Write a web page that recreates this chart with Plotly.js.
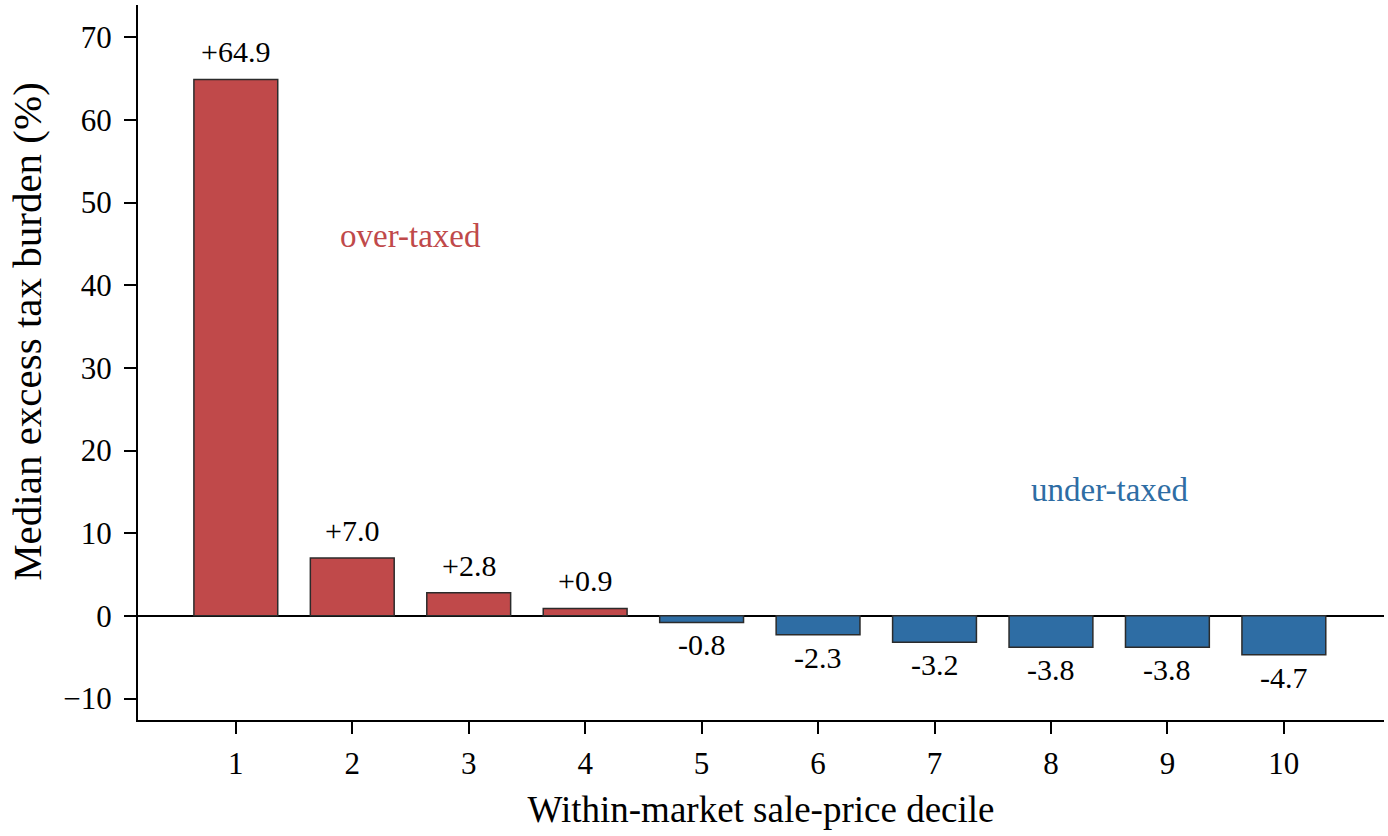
<!DOCTYPE html>
<html>
<head>
<meta charset="utf-8">
<script src="https://cdn.plot.ly/plotly-3.0.1.min.js"></script>
<style>
  html, body { margin: 0; padding: 0; background: #fff; }
  #chart { width: 1388px; height: 836px; }
</style>
</head>
<body>
<div id="chart"></div>
<script>
// Deciles and median excess tax burden (%)
var deciles = [1, 2, 3, 4, 5, 6, 7, 8, 9, 10];
var burden = [64.9, 7.0, 2.8, 0.9, -0.8, -2.3, -3.2, -3.8, -3.8, -4.7];
var yTicks = [-10, 0, 10, 20, 30, 40, 50, 60, 70];

var RED = '#c0494a';
var BLUE = '#2e6da4';
var FONT = '"Liberation Serif", "Times New Roman", serif';

var barColors = burden.map(function(v) { return v >= 0 ? RED : BLUE; });

var trace = {
    type: 'bar',
    x: deciles,
    y: burden,
    width: 0.72,
    marker: {
        color: barColors,
        line: { color: '#2b2b2b', width: 1.5 }
    },
    hoverinfo: 'x+y'
};

// Value labels above / below each bar
var annotations = burden.map(function(v, i) {
    var txt = (v >= 0 ? '+' : '') + v.toFixed(1);
    return {
        x: deciles[i],
        y: v,
        xref: 'x',
        yref: 'y',
        text: txt,
        showarrow: false,
        yanchor: v >= 0 ? 'bottom' : 'top',
        yshift: v >= 0 ? 9 : -4,
        font: { family: FONT, size: 30, color: '#000' }
    };
});

annotations.push({
    x: 2.5, y: 46, xref: 'x', yref: 'y',
    text: 'over-taxed', showarrow: false,
    font: { family: FONT, size: 33, color: RED }
});
annotations.push({
    x: 8.5, y: 15.2, xref: 'x', yref: 'y',
    text: 'under-taxed', showarrow: false,
    font: { family: FONT, size: 33, color: BLUE }
});
// y axis title, placed by hand so it sits where the original one does
annotations.push({
    x: -0.089, y: 0.543, xref: 'paper', yref: 'paper',
    xanchor: 'center', yanchor: 'middle',
    text: 'Median excess tax burden (%)', showarrow: false,
    textangle: -90,
    font: { family: FONT, size: 41, color: '#000' }
});

var layout = {
    width: 1388,
    height: 836,
    margin: { l: 138, r: 4, t: 5, b: 116 },
    paper_bgcolor: '#fff',
    plot_bgcolor: '#fff',
    showlegend: false,
    font: { family: FONT, size: 30, color: '#000' },
    xaxis: {
        range: [0.16, 10.86],
        tickvals: deciles,
        ticks: 'outside',
        ticklen: 12,
        tickwidth: 2,
        tickcolor: '#000',
        ticklabelstandoff: 3,
        showline: true,
        linewidth: 2,
        linecolor: '#000',
        showgrid: false,
        zeroline: false,
        tickfont: { family: FONT, size: 31 },
        title: { text: 'Within-market sale-price decile', font: { family: FONT, size: 37 }, standoff: 16 }
    },
    yaxis: {
        range: [-12.6, 73.9],
        tickvals: yTicks,
        ticks: 'outside',
        ticklen: 12,
        tickwidth: 2,
        tickcolor: '#000',
        ticklabelstandoff: 6,
        showline: true,
        linewidth: 2,
        linecolor: '#000',
        showgrid: false,
        zeroline: true,
        zerolinecolor: '#000',
        zerolinewidth: 2,
        tickfont: { family: FONT, size: 31 }
    },
    annotations: annotations
};

Plotly.newPlot('chart', [trace], layout, { displayModeBar: false, staticPlot: true });
</script>
</body>
</html>
